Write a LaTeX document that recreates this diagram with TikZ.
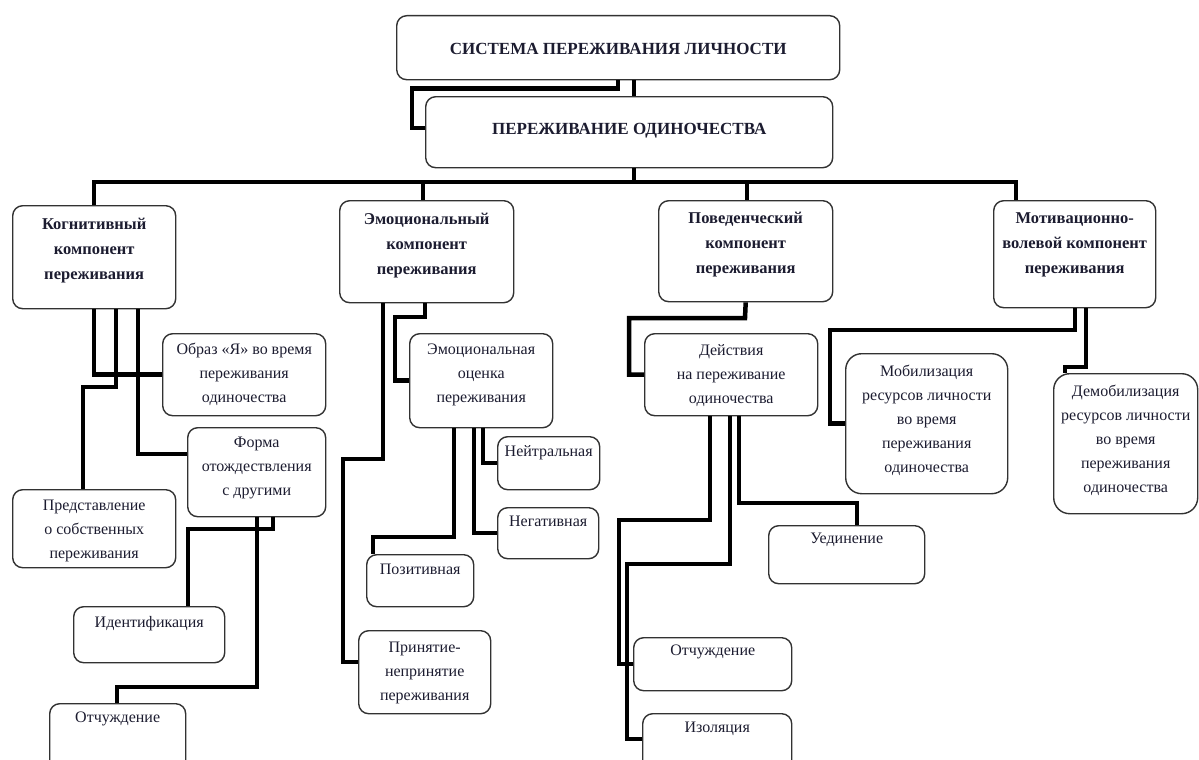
\documentclass[tikz,border=0pt]{standalone}
\usepackage{fontspec}
\setmainfont{Liberation Serif}
\usepackage{tikz}
\definecolor{ink}{RGB}{28,28,48}
\definecolor{frame}{RGB}{50,50,50}
\newcommand{\boxtext}[4]{\parbox[c][#2pt][t]{#1pt}{\centering\vspace*{#3pt}\strut#4}}

\begin{document}
\begin{tikzpicture}[x=1pt,y=-1pt,
    blk/.style={draw=frame,line width=1.4pt,rounded corners=10pt,fill=white,inner sep=0pt,
      text=ink,font=\fontsize{16}{24}\selectfont},
    head/.style={blk,font=\bfseries\fontsize{16.5}{25}\selectfont},
    title/.style={blk,font=\bfseries\fontsize{17}{25}\selectfont},
    link/.style={line width=4.5pt,line join=miter}]
    \useasboundingbox (0,0) rectangle (1199,760);
    \fill[white] (0,0) rectangle (1199,760);

    \node[title,anchor=north west] (top) at (396,15) {\boxtext{443}{64}{21.1}{СИСТЕМА ПЕРЕЖИВАНИЯ ЛИЧНОСТИ}};
    \node[title,anchor=north west] (sec) at (425,96) {\boxtext{407}{71}{20.1}{ПЕРЕЖИВАНИЕ ОДИНОЧЕСТВА}};

    \node[head,anchor=north west] (K) at (12,205) {\boxtext{163}{103}{6.3}{Когнитивный\\компонент\\переживания}};
    \node[head,anchor=north west] (E) at (339,200) {\boxtext{174}{102}{6.3}{Эмоциональный\\компонент\\переживания}};
    \node[head,anchor=north west] (P) at (658,200) {\boxtext{174}{101}{5.3}{Поведенческий\\компонент\\переживания}};
    \node[head,anchor=north west] (M) at (993,200) {\boxtext{162}{107}{5.3}{Мотивационно-\\волевой компонент\\переживания}};

    \node[blk,anchor=north west] (obraz) at (162,333) {\boxtext{163}{82}{3.8}{Образ «Я» во время\\переживания\\одиночества}};
    \node[blk,anchor=north west] (forma) at (187,427) {\boxtext{138}{89}{2.8}{Форма\\отождествления\\с другими}};
    \node[blk,anchor=north west] (pred) at (12,489) {\boxtext{163}{78}{3.8}{Представление\\о собственных\\переживания}};
    \node[blk,anchor=north west] (iden) at (73,606) {\boxtext{151}{56}{3.8}{Идентификация}};
    \node[blk,anchor=north west] (otchA) at (49,703) {\boxtext{136}{72}{1.8}{Отчуждение}};

    \node[blk,anchor=north west] (ocenka) at (409,333) {\boxtext{143}{94}{3.8}{Эмоциональная\\оценка\\переживания}};
    \node[blk,anchor=north west] (neut) at (497,436) {\boxtext{102}{53}{2.8}{Нейтральная}};
    \node[blk,anchor=north west] (nega) at (497,507) {\boxtext{101}{51}{1.8}{Негативная}};
    \node[blk,anchor=north west] (pozi) at (366,554) {\boxtext{107}{52}{2.8}{Позитивная}};
    \node[blk,anchor=north west] (prin) at (358,630) {\boxtext{132}{83}{4.8}{Принятие-\\непринятие\\переживания}};

    \node[blk,anchor=north west] (dejs) at (644,333) {\boxtext{173}{82}{4.8}{Действия\\на переживание\\одиночества}};
    \node[blk,anchor=north west] (ued) at (768,525) {\boxtext{156}{58}{0.8}{Уединение}};
    \node[blk,anchor=north west] (otchB) at (633,637) {\boxtext{158}{53}{0.8}{Отчуждение}};
    \node[blk,anchor=north west] (izol) at (642,713) {\boxtext{149}{62}{1.8}{Изоляция}};

    \node[blk,rounded corners=16pt,anchor=north west] (mob) at (845,353) {\boxtext{162}{140}{5.8}{Мобилизация\\ресурсов личности\\во время\\переживания\\одиночества}};
    \node[blk,rounded corners=16pt,anchor=north west] (demob) at (1053,373) {\boxtext{144}{140}{5.8}{Демобилизация\\ресурсов личности\\во время\\переживания\\одиночества}};

    % upper levels
    \draw[link] (top.south) -- ++(0,8) -| (412,128) -- (sec.west |- 0,128);
    \draw[link] (top.south -| 634,0) -- (sec.north -| 634,0);
    \draw[link] (sec.south -| 634,0) -- (634,182);
    \draw[link] (K.north) |- (1016,182) -- (M.north -| 1016,0);
    \foreach \bx/\nd in {423/E,747/P}
      \draw[link] (\bx,182) -- (\nd.north -| \bx,0);

    % cognitive
    \draw[link] (K.south -| 94,0) |- (obraz.west);
    \draw[link] (K.south -| 116,0) -- (116,387) -| (pred.north -| 83,0);
    \draw[link] (K.south -| 138,0) |- (forma.west |- 0,454);
    \draw[link] (forma.south -| 273,0) -- (273,529) -| (iden.north -| 188,0);
    \draw[link] (forma.south -| 257,0) -- (257,687) -| (otchA.north -| 117,0);

    % emotional
    \draw[link] (E.south -| 425,0) -- (425,317) -- (395,317) |- (ocenka.west);
    \draw[link] (E.south -| 383,0) -- (383,459) -- (343,459) |- (prin.west |- 0,662);
    \draw[link] (ocenka.south -| 454,0) -- (454,537) -| (pozi.north -| 373,0);
    \draw[link] (ocenka.south -| 474,0) |- (nega.west);
    \draw[link] (ocenka.south -| 483,0) |- (neut.west);

    % behavioural
    \draw[link] (P.south) -- (745,318) -- (629,318) |- (dejs.west);
    \draw[link] (dejs.south -| 710,0) -- (710,520) -- (619,520) |- (otchB.west);
    \draw[link] (dejs.south -| 730,0) -- (730,564) -- (627,564) |- (izol.west |- 0,739);
    \draw[link] (dejs.south -| 739,0) -- (739,503) -| (ued.north -| 857,0);

    % motivational
    \draw[link] (M.south -| 1075,0) -- (1075,330) -- (830,330) |- (mob.west);
    \draw[link] (M.south -| 1086,0) -- (1086,367) -| (demob.north -| 1065,0);
\end{tikzpicture}
\end{document}
